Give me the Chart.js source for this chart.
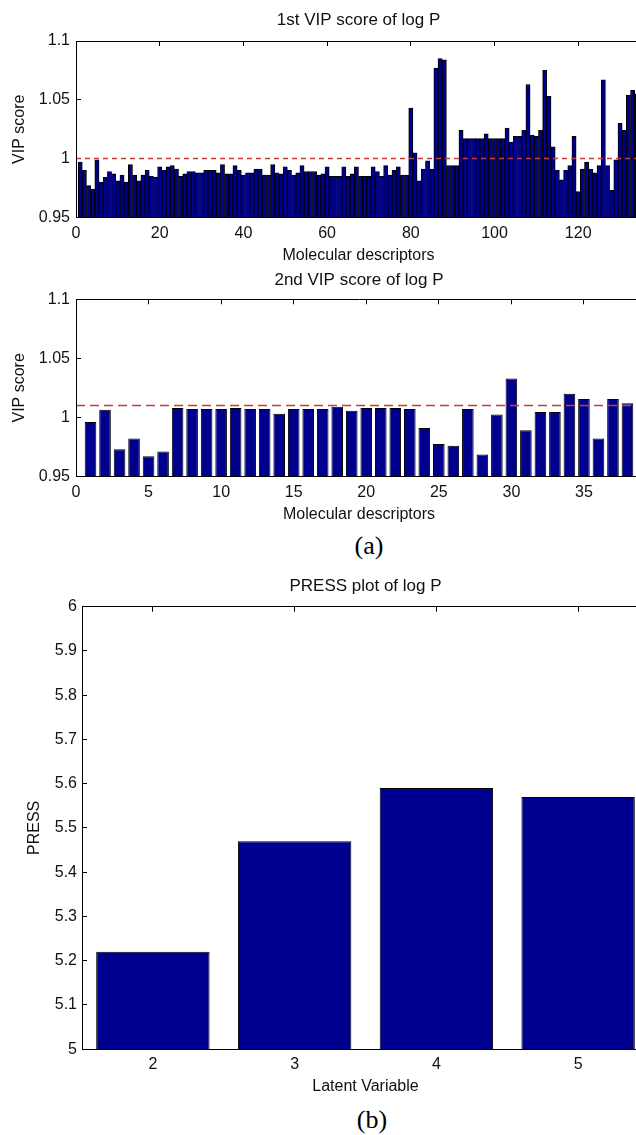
<!DOCTYPE html>
<html>
<head>
<meta charset="utf-8">
<script src="https://cdn.jsdelivr.net/npm/chart.js@4.4.1/dist/chart.umd.min.js"></script>
<style>
  html, body { margin: 0; padding: 0; background: #fff; overflow: hidden; width: 636px; height: 1135px; }
  canvas { position: absolute; left: 0; }
  .cap { position: absolute; transform: translate(-50%, -50%); font-family: "Liberation Serif", "Times New Roman", serif; font-size: 26px; color: #000; }
</style>
</head>
<body>
<canvas id="chart1" width="641" height="265" style="top:0px"></canvas>
<canvas id="chart2" width="642" height="259" style="top:265px"></canvas>
<div class="cap" style="left:369px; top:546px">(a)</div>
<canvas id="chart3" width="649" height="536" style="top:560px"></canvas>
<div class="cap" style="left:372px; top:1120px">(b)</div>
<script>
// VIP scores (descriptor 1..134)
const vip1 = [
  0.997, 0.990, 0.977, 0.974, 0.999, 0.980, 0.984, 0.989, 0.987, 0.981,
  0.986, 0.980, 0.995, 0.986, 0.981, 0.986, 0.990, 0.985, 0.984, 0.993,
  0.990, 0.993, 0.994, 0.991, 0.985, 0.987, 0.989, 0.989, 0.988, 0.988,
  0.990, 0.990, 0.990, 0.988, 0.995, 0.987, 0.987, 0.994, 0.990, 0.986,
  0.988, 0.988, 0.991, 0.991, 0.986, 0.986, 0.995, 0.988, 0.987, 0.993,
  0.990, 0.986, 0.988, 0.994, 0.989, 0.989, 0.989, 0.986, 0.987, 0.993,
  0.985, 0.985, 0.985, 0.993, 0.985, 0.987, 0.993, 0.985, 0.985, 0.985,
  0.993, 0.989, 0.985, 0.994, 0.986, 0.990, 0.993, 0.986, 0.986, 1.043,
  1.005, 0.981, 0.991, 0.998, 0.991, 1.077, 1.085, 1.084, 0.994, 0.994,
  0.994, 1.024, 1.017, 1.017, 1.017, 1.017, 1.017, 1.021, 1.017, 1.017,
  1.017, 1.017, 1.026, 1.014, 1.019, 1.019, 1.024, 1.063, 1.020, 1.019,
  1.024, 1.075, 1.053, 1.010, 0.990, 0.982, 0.990, 0.994, 1.019, 0.972,
  0.991, 0.997, 0.991, 0.988, 0.994, 1.067, 0.994, 0.973, 0.999, 1.030,
  1.024, 1.054, 1.058, 1.055
];
const vip1Cut = 1.0;

// second model, descriptors 1..38
const vip2 = [
  0.996, 1.0065, 0.973, 0.982, 0.967, 0.971, 1.008, 1.007, 1.007, 1.007,
  1.008, 1.007, 1.007, 1.003, 1.007, 1.007, 1.007, 1.009, 1.0055, 1.008,
  1.008, 1.008, 1.007, 0.991, 0.9775, 0.976, 1.007, 0.9685, 1.0025, 1.033,
  0.989, 1.0045, 1.0045, 1.020, 1.0155, 0.982, 1.0155, 1.012
];
const vip2Cut = 1.01;

const latentVars = ['2', '3', '4', '5'];
const press = [5.22, 5.47, 5.59, 5.57];

const BAR = '#00008f';
const EDGE = '#000000';
const CUT = '#c83c3c';
const TXT = '#111111';

Chart.defaults.font.family = '"Liberation Sans", Arial, Helvetica, sans-serif';
Chart.defaults.font.size = 16;
Chart.defaults.color = TXT;
Chart.defaults.animation = false;

// matlab style frame: black box line, short ticks pointing inwards
function frame(pos, opts) {
  return Object.assign({
    position: pos,
    grid: { drawOnChartArea: false, drawTicks: true, tickLength: -5, color: EDGE, lineWidth: 1, offset: false },
    border: { display: true, color: EDGE, width: 1, z: 1 },
  }, opts);
}

function fmt(d) {
  return v => String(Number(v.toFixed(d)));
}

function vipChart(id, title, vals, cut, step, dash, barPct, tp) {
  const xMax = vals.length + 1;
  new Chart(document.getElementById(id), {
    type: 'bar',
    data: {
      datasets: [
        {
          type: 'line',
          data: [{ x: 0, y: cut }, { x: xMax, y: cut }],
          borderColor: CUT,
          borderWidth: 1.5,
          borderDash: dash,
          pointRadius: 0,
          order: 0,
        },
        {
          type: 'bar',
          data: vals.map((v, i) => ({ x: i + 1, y: v })),
          backgroundColor: BAR,
          borderColor: EDGE,
          borderWidth: 1,
          barPercentage: barPct,
          categoryPercentage: 1,
          order: 1,
        },
      ],
    },
    options: {
      responsive: false,
      layout: { padding: 0 },
      plugins: {
        legend: { display: false },
        tooltip: { enabled: false },
        title: {
          display: true, text: title, fullSize: false,
          font: { size: 17, weight: 'normal' }, color: TXT,
          padding: { top: tp[0], bottom: tp[1] },
        },
      },
      scales: {
        x: frame('bottom', {
          type: 'linear', min: 0, max: xMax, offset: false,
          ticks: { stepSize: step, includeBounds: false, padding: 11.4, maxRotation: 0, autoSkip: false },
          title: { display: true, text: 'Molecular descriptors', padding: { top: 0, bottom: 0 } },
          afterFit: s => { s.height = 47.6; },
        }),
        x2: frame('top', {
          type: 'linear', min: 0, max: xMax, offset: false,
          ticks: { stepSize: step, includeBounds: false, display: false },
          afterFit: s => { s.height = 0; },
        }),
        y: frame('left', {
          min: 0.95, max: 1.1, beginAtZero: false,
          ticks: { stepSize: 0.05, padding: 11, callback: fmt(2) },
          title: { display: true, text: 'VIP score', padding: { top: 10.4, bottom: 0 } },
          afterFit: s => { s.width = 76; },
        }),
        y2: frame('right', {
          min: 0.95, max: 1.1, beginAtZero: false,
          ticks: { stepSize: 0.05, display: false },
          afterFit: s => { s.width = 0; },
        }),
      },
    },
  });
}

vipChart('chart1', '1st VIP score of log P', vip1, vip1Cut, 20, [5, 4], 1, [9.8, 10.8]);
vipChart('chart2', '2nd VIP score of log P', vip2, vip2Cut, 5, [9, 5], 0.8, [4.8, 9.1]);

new Chart(document.getElementById('chart3'), {
  type: 'bar',
  data: {
    labels: latentVars,
    datasets: [{
      data: press,
      backgroundColor: BAR,
      borderColor: EDGE,
      borderWidth: 1,
      barPercentage: 0.8,
      categoryPercentage: 1,
    }],
  },
  options: {
    responsive: false,
    layout: { padding: 0 },
    plugins: {
      legend: { display: false },
      tooltip: { enabled: false },
      title: {
        display: true, text: 'PRESS plot of log P', fullSize: false,
        font: { size: 17, weight: 'normal' }, color: TXT,
        padding: { top: 16.3, bottom: 10 },
      },
    },
    scales: {
      x: frame('bottom', {
        type: 'category', offset: true,
        ticks: { padding: 11.1, maxRotation: 0 },
        title: { display: true, text: 'Latent Variable', padding: { top: 0, bottom: 0 } },
        afterFit: s => { s.height = 46.9; },
      }),
      x2: frame('top', {
        type: 'category', offset: true,
        ticks: { display: false },
        afterFit: s => { s.height = 0; },
      }),
      y: frame('left', {
        min: 5, max: 6, beginAtZero: false,
        ticks: { stepSize: 0.1, padding: 10, callback: fmt(1) },
        title: { display: true, text: 'PRESS', padding: { top: 25.4, bottom: 0 } },
        afterFit: s => { s.width = 82; },
      }),
      y2: frame('right', {
        min: 5, max: 6, beginAtZero: false,
        ticks: { stepSize: 0.1, display: false },
        afterFit: s => { s.width = 0; },
      }),
    },
  },
});
</script>
</body>
</html>
